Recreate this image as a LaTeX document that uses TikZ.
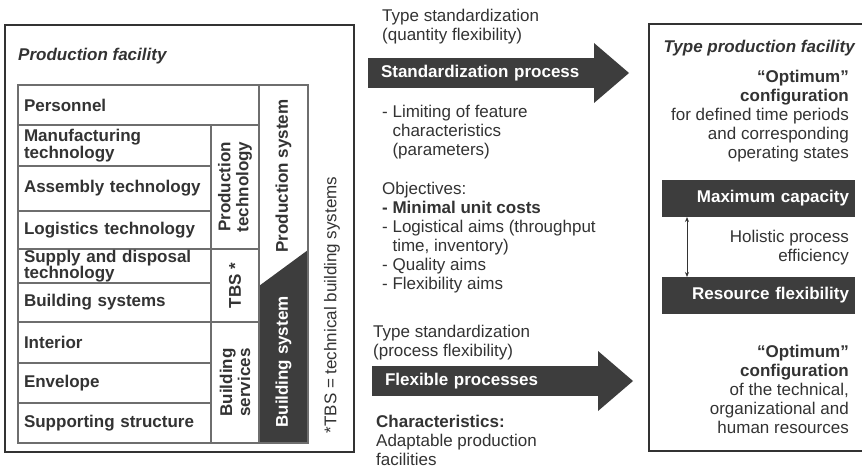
\documentclass[tikz,border=0pt]{standalone}
\usepackage{fontspec}
\setsansfont{Liberation Sans}
\usetikzlibrary{arrows.meta, calc}

\definecolor{ink}{HTML}{333333}
\definecolor{darkfill}{HTML}{3D3D3D}
\definecolor{rulegray}{HTML}{6E6E6E}

\begin{document}
\begin{tikzpicture}[
    x=1pt, y=-1pt,
    font=\sffamily\fontsize{17}{19}\selectfont,
    text=ink,
    frame/.style={draw=ink, line width=2pt, anchor=north west, inner sep=0pt, outer sep=0pt},
    cell/.style={draw=rulegray, line width=1.6pt, anchor=north west, inner xsep=6pt, inner ysep=0pt, outer sep=0pt, align=left, font=\sffamily\bfseries\fontsize{17}{17}\selectfont},
    sidecell/.style={draw=rulegray, line width=1.6pt, rotate=90, inner sep=0pt, outer sep=0pt, align=center, font=\sffamily\bfseries\fontsize{17}{18}\selectfont},
    note/.style={anchor=north west, inner sep=0pt, align=left},
    rnote/.style={anchor=north east, inner sep=0pt, align=right},
    bar/.style={fill=darkfill, text=white, anchor=west, minimum height=30pt, text width=200pt, inner xsep=13pt, inner ysep=0pt, outer sep=0pt, align=left, font=\sffamily\bfseries\fontsize{17}{19}\selectfont},
    darkbox/.style={fill=darkfill, text=white, anchor=north west, minimum height=37pt, text width=181pt, inner xsep=6pt, inner ysep=0pt, outer sep=0pt, align=right, font=\sffamily\bfseries\fontsize{17}{19}\selectfont},
    head/.style={fill=darkfill},
    link/.style={{Stealth[length=5pt,width=4pt]}-{Stealth[length=5pt,width=4pt]}, draw=ink, line width=0.9pt}
]

\useasboundingbox (0,0) rectangle (862,473);
\clip (0,0) rectangle (862,473);
\fill[white] (0,0) rectangle (862,473);

% Left: production facility
\node[frame, minimum width=349pt, minimum height=427pt] (facility) at (5,25) {};
\node[note, font=\sffamily\bfseries\itshape\fontsize{17}{19}\selectfont] (facilitytitle) at (18,48) {Production facility};

% Rows of the facility
\node[cell, text width=229pt, minimum height=40pt] (personnel) at (18,85) {Personnel};
\node[cell, text width=181pt, minimum height=41pt] (manufacturing) at (18,125) {Manufacturing\\technology};
\node[cell, text width=181pt, minimum height=45pt] (assembly) at (18,166) {Assembly technology};
\node[cell, text width=181pt, minimum height=38pt] (logistics) at (18,211) {Logistics technology};
\node[cell, text width=181pt, minimum height=34pt, font=\sffamily\bfseries\fontsize{17}{16}\selectfont] (supply) at (18,249) {Supply and disposal\\technology};
\node[cell, text width=181pt, minimum height=39pt] (bldsystems) at (18,283) {Building systems};
\node[cell, text width=181pt, minimum height=41pt] (interior) at (18,322) {Interior};
\node[cell, text width=181pt, minimum height=40pt] (envelope) at (18,363) {Envelope};
\node[cell, text width=181pt, minimum height=40pt] (supporting) at (18,403) {Supporting structure};

% Groups of rows
\node[sidecell, minimum width=124pt, minimum height=48pt] (prodtech) at (235,187) {Production\\technology};
\node[sidecell, minimum width=73pt, minimum height=48pt] (tbs) at (235,285.5) {TBS *};
\node[sidecell, minimum width=121pt, minimum height=48pt] (bldservices) at (235,382.5) {Building\\services};

% Production / building system column
\fill[darkfill] (259,443) -- (308,443) -- (308,250) -- (259,286) -- cycle;
\node[draw=rulegray, line width=1.6pt, anchor=north west, minimum width=49pt, minimum height=358pt, inner sep=0pt, outer sep=0pt] (syscol) at (259,85) {};
\node[rotate=90, font=\sffamily\bfseries\fontsize{17}{19}\selectfont] (prodsys) at (283.5,176) {Production system};
\node[rotate=90, text=white, font=\sffamily\bfseries\fontsize{17}{19}\selectfont] (bldsys) at (283.5,362) {Building system};

\node[rotate=90] (tbsnote) at (332,305) {*TBS = technical building systems};

% Middle: upper path
\node[note] (qtyflex) at (382,9) {Type standardization\\(quantity flexibility)};
\node[bar] (stdproc) at (368,73) {Standardization process};
\fill[head] ($(stdproc.east)+(0,-30)$) -- ($(stdproc.east)+(35,0)$) -- ($(stdproc.east)+(0,30)$) -- cycle;
\node[note] (limits) at (382,105) {- Limiting of feature\\\hphantom{- }characteristics\\\hphantom{- }(parameters)};
\node[note] (objectives) at (382,182) {Objectives:\\\textbf{- Minimal unit costs}\\- Logistical aims (throughput\\\hphantom{- }time, inventory)\\- Quality aims\\- Flexibility aims};

% Middle: lower path
\node[note] (procflex) at (373,325) {Type standardization\\(process flexibility)};
\node[bar] (flexproc) at (372,381) {Flexible processes};
\fill[head] ($(flexproc.east)+(0,-30)$) -- ($(flexproc.east)+(35,0)$) -- ($(flexproc.east)+(0,30)$) -- cycle;
\node[note] (traits) at (376,415) {\textbf{Characteristics:}\\Adaptable production\\facilities};

% Right: type production facility
\node[frame, minimum width=216pt, minimum height=427pt] (typefacility) at (649,24) {};
\node[rnote, font=\sffamily\bfseries\itshape\fontsize{17}{19}\selectfont] (typetitle) at (855,40) {Type production facility};
\node[rnote] (optconfig) at (849,70) {\textbf{“Optimum”}\\\textbf{configuration}\\for defined time periods\\and corresponding\\operating states};
\node[darkbox] (maxcap) at (662,180) {Maximum capacity};
\node[rnote] (holistic) at (849,230) {Holistic process\\efficiency};
\node[darkbox] (resflex) at (662,277) {Resource flexibility};
\draw[link] ($(maxcap.south west)+(25,0)$) -- ($(resflex.north west)+(25,0)$);
\node[rnote] (optresources) at (849,345) {\textbf{“Optimum”}\\\textbf{configuration}\\of the technical,\\organizational and\\human resources};

\end{tikzpicture}
\end{document}
